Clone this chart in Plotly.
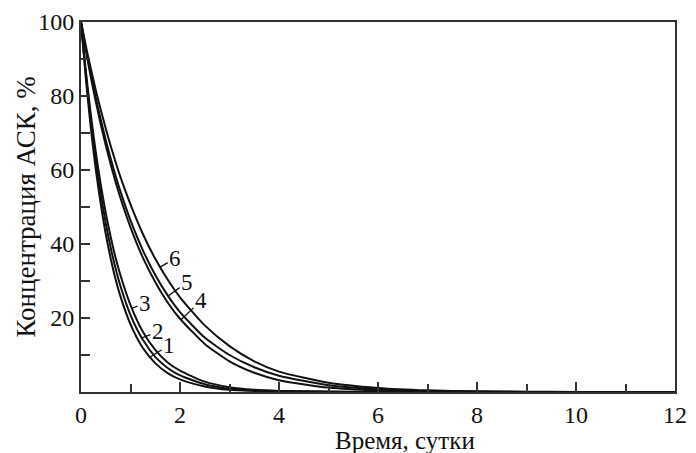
import numpy as np
import plotly.graph_objects as go

# Time, days
t = [0, 0.1, 0.2, 0.3, 0.4, 0.5, 0.6, 0.7, 0.8, 1.0, 1.25, 1.5, 1.75, 2.0,
     2.5, 3.0, 3.5, 4.0, 5.0, 6.0, 7.0, 8.0, 9.0, 10.0, 11.0, 12.0]

# Concentration of ASC, %
c1 = [100, 84.4, 71.2, 60.0, 50.7, 42.7, 36.1, 30.4, 25.7, 18.3, 11.9, 7.8, 5.1, 3.4,
      1.5, 0.6, 0.3, 0.12, 0.04, 0, 0, 0, 0, 0, 0, 0]
c2 = [100, 85.5, 73.0, 62.4, 53.4, 45.6, 39.0, 33.3, 28.5, 20.8, 14.1, 9.5, 6.5, 4.5,
      2.1, 0.9, 0.4, 0.2, 0.05, 0, 0, 0, 0, 0, 0, 0]
c3 = [100, 86.5, 74.8, 64.7, 56.0, 48.4, 41.9, 36.2, 31.4, 23.5, 16.3, 11.4, 8.0, 5.8,
      2.8, 1.3, 0.6, 0.3, 0.1, 0.03, 0, 0, 0, 0, 0, 0]
c4 = [100, 92.2, 85.0, 78.4, 72.3, 66.7, 61.5, 56.7, 52.3, 44.5, 36.3, 29.7, 24.2, 19.8,
      13.0, 8.3, 5.2, 3.2, 1.2, 0.4, 0.15, 0.05, 0, 0, 0, 0]
c5 = [100, 92.6, 85.8, 79.4, 73.6, 68.1, 63.1, 58.4, 54.1, 46.4, 38.3, 31.6, 26.1, 21.6,
      14.7, 10.0, 6.7, 4.4, 1.8, 0.7, 0.25, 0.1, 0.03, 0, 0, 0]
c6 = [100, 93.4, 87.3, 81.5, 76.2, 71.2, 66.5, 62.1, 58.0, 50.7, 42.7, 36.0, 30.4, 25.6,
      18.0, 12.4, 8.3, 5.5, 2.5, 1.1, 0.45, 0.18, 0.07, 0.03, 0, 0]

series = [c1, c2, c3, c4, c5, c6]
labels = ["1", "2", "3", "4", "5", "6"]
# time at which each curve number's leader touches the curve
label_t = [1.40, 1.23, 1.03, 2.02, 1.76, 1.60]
# leader offsets (pixels) from the curve point to the number
label_dx = [19, 16, 13, 20, 19, 15]
label_dy = [-12, -6, -5, -19, -14, -9]

x_ticks = [0, 2, 4, 6, 8, 10, 12]
y_ticks = [20, 40, 60, 80, 100]

FONT = "Liberation Serif, Times New Roman, serif"
INK = "#111111"

fig = go.Figure()
for s in series:
    fig.add_trace(go.Scatter(x=t, y=s, mode="lines",
                             line=dict(color=INK, width=2, shape="spline", smoothing=0.6),
                             showlegend=False, hoverinfo="skip"))

for lab, lt, dx, dy, s in zip(labels, label_t, label_dx, label_dy, series):
    yv = float(np.interp(lt, t, s))
    fig.add_annotation(x=lt, y=yv, xref="x", yref="y", text=lab,
                       showarrow=True, arrowhead=0, arrowwidth=1.3, arrowcolor=INK,
                       ax=dx, ay=dy, standoff=0,
                       font=dict(family=FONT, size=23, color=INK))

fig.add_annotation(text="Время, сутки", xref="paper", yref="paper",
                   x=0.545, y=-0.132, showarrow=False,
                   font=dict(family=FONT, size=25, color=INK),
                   xanchor="center", yanchor="middle")
fig.add_annotation(text="Концентрация АСК, %", xref="paper", yref="paper",
                   x=-0.0924, y=0.4987, showarrow=False, textangle=-90,
                   font=dict(family=FONT, size=27, color=INK),
                   xanchor="center", yanchor="middle")

fig.update_xaxes(range=[0, 12], tickvals=x_ticks, ticktext=[str(v) for v in x_ticks],
                 ticks="inside", ticklen=10, tickwidth=1.5, tickcolor="#333",
                 minor=dict(dtick=1, tick0=0, ticks="inside", ticklen=8, tickwidth=1.5, tickcolor="#333"),
                 showline=True, linecolor="#333", linewidth=2, mirror=True,
                 showgrid=False, zeroline=False, ticklabeloverflow="allow",
                 tickfont=dict(family=FONT, size=24, color=INK))
fig.update_yaxes(range=[0, 100], tickvals=y_ticks, ticktext=[str(v) for v in y_ticks],
                 ticks="inside", ticklen=9, tickwidth=1.5, tickcolor="#333",
                 minor=dict(dtick=10, tick0=0, ticks="inside", ticklen=9, tickwidth=1.5, tickcolor="#333"),
                 showline=True, linecolor="#333", linewidth=2, mirror=True,
                 showgrid=False, zeroline=False, ticklabeloverflow="allow",
                 tickfont=dict(family=FONT, size=24, color=INK))

fig.update_layout(width=696, height=453,
                  margin=dict(l=81, r=9, t=21, b=61),
                  paper_bgcolor="white", plot_bgcolor="white")

fig.write_html("out.html")
